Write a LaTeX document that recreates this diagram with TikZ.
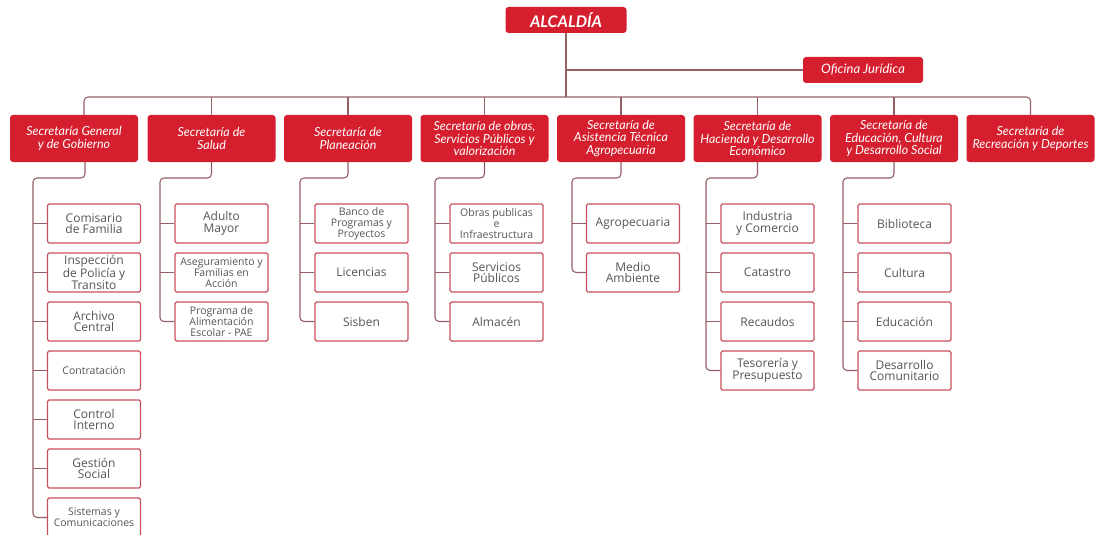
\documentclass[tikz,border=0pt]{standalone}
\usepackage{fontspec}
\setmainfont{Open Sans}
\newfontfamily\titlefont{Lato}
\usepackage{xcolor}
\definecolor{secred}{HTML}{D51F2E}
\definecolor{linkline}{HTML}{946066}
\definecolor{boxline}{HTML}{C9505A}
\definecolor{subtext}{HTML}{555555}

\begin{document}
\begin{tikzpicture}[x=1pt,y=-1pt,
    secbox/.style={fill=secred, rounded corners=3pt, minimum width=128pt, minimum height=47pt,
      inner sep=0pt, align=center, text=white, font=\titlefont\itshape\fontsize{12.5}{12.5}\selectfont},
    subbox/.style={draw=boxline, line width=1.1pt, fill=white, rounded corners=1.5pt,
      minimum width=93pt, minimum height=39pt, inner sep=0pt, align=center, text=subtext,
      font=\fontsize{12}{11.5}\selectfont},
    small/.style={font=\fontsize{10.5}{11}\selectfont},
    link/.style={draw=linkline, line width=1.1pt, rounded corners=4pt}]
  \useasboundingbox (0,0) rectangle (1096,535);
  % top level
  \node[secbox, minimum width=121pt, minimum height=26pt, font=\titlefont\bfseries\itshape\fontsize{16}{16}\selectfont]
    (alc) at (566,20) {ALCALDÍA};
  \node[secbox, minimum width=120pt, minimum height=26pt, font=\titlefont\itshape\fontsize{13}{13}\selectfont]
    (ofi) at (863,70) {Oficina Jurídica};
  \node[secbox] (s1) at (74,138.5) {Secretaría General\\y de Gobierno};
  \node[secbox] (s2) at (211.5,138.5) {Secretaría de\\Salud};
  \node[secbox] (s3) at (348,138.5) {Secretaría de\\Planeación};
  \node[secbox] (s4) at (484.5,138.5) {Secretaría de obras,\\Servicios Públicos y\\valorización};
  \node[secbox] (s5) at (621,138.5) {Secretaría de\\Asistencia Técnica\\Agropecuaria};
  \node[secbox] (s6) at (757.5,138.5) {Secretaría de\\Hacienda y Desarrollo\\Económico};
  \node[secbox] (s7) at (894,138.5) {Secretaría de\\Educación, Cultura\\y Desarrollo Social};
  \node[secbox] (s8) at (1030.5,138.5) {Secretaría de\\Recreación y Deportes};
  % bus
  \coordinate (bus) at (566,97);
  \draw[link] (alc) -- (bus);
  \draw[link] (alc.south |- ofi) -- (ofi.west);
  \draw[link] ([xshift=10pt]s1.north) |- (bus) -| (s8.north);
  \draw[link] (s2.north) -- (s2.north |- bus);
  \draw[link] (s3.north) -- (s3.north |- bus);
  \draw[link] (s4.north) -- (s4.north |- bus);
  \draw[link] (s5.north) -- (s5.north |- bus);
  \draw[link] (s6.north) -- (s6.north |- bus);
  \draw[link] (s7.north) -- (s7.north |- bus);
  % column 1
  \node[subbox] (c11) at (94,223.5) {Comisario\\de Familia};
  \node[subbox] (c12) at (94,272.5) {Inspección\\de Policía y\\Transito};
  \node[subbox] (c13) at (94,321.5) {Archivo\\Central};
  \node[subbox, small] (c14) at (94,370.5) {Contratación};
  \node[subbox] (c15) at (94,419.5) {Control\\Interno};
  \node[subbox] (c16) at (94,468.5) {Gestión\\Social};
  \node[subbox, small] (c17) at (94,517.5) {Sistemas y\\Comunicaciones};
  % column 2
  \node[subbox] (c21) at (221.5,223.5) {Adulto\\Mayor};
  \node[subbox, small] (c22) at (221.5,272.5) {Aseguramiento y\\Familias en\\Acción};
  \node[subbox, small] (c23) at (221.5,321.5) {Programa de\\Alimentación\\Escolar - PAE};
  % column 3
  \node[subbox, small] (c31) at (361.5,223.5) {Banco de\\Programas y\\Proyectos};
  \node[subbox] (c32) at (361.5,272.5) {Licencias};
  \node[subbox] (c33) at (361.5,321.5) {Sisben};
  % column 4
  \node[subbox, small] (c41) at (496.5,223.5) {Obras publicas\\e\\Infraestructura};
  \node[subbox] (c42) at (496.5,272.5) {Servicios\\Públicos};
  \node[subbox] (c43) at (496.5,321.5) {Almacén};
  % column 5
  \node[subbox] (c51) at (633,223.5) {Agropecuaria};
  \node[subbox] (c52) at (633,272.5) {Medio\\Ambiente};
  % column 6
  \node[subbox] (c61) at (767.5,223.5) {Industria\\y Comercio};
  \node[subbox] (c62) at (767.5,272.5) {Catastro};
  \node[subbox] (c63) at (767.5,321.5) {Recaudos};
  \node[subbox] (c64) at (767.5,370.5) {Tesorería y\\Presupuesto};
  % column 7
  \node[subbox] (c71) at (904.5,223.5) {Biblioteca};
  \node[subbox] (c72) at (904.5,272.5) {Cultura};
  \node[subbox] (c73) at (904.5,321.5) {Educación};
  \node[subbox] (c74) at (904.5,370.5) {Desarrollo\\Comunitario};
  % column links
  \coordinate (j1) at (33,178);
  \coordinate (j2) at (160,178);
  \coordinate (j3) at (300,178);
  \coordinate (j4) at (435,178);
  \coordinate (j5) at (572,178);
  \coordinate (j6) at (706,178);
  \coordinate (j7) at (843,178);
  \draw[link] ([xshift=11pt]s1.south) |- (j1) |- (c17.west);
  \draw[link] (s2.south) |- (j2) |- (c23.west);
  \draw[link] (s3.south) |- (j3) |- (c33.west);
  \draw[link] (s4.south) |- (j4) |- (c43.west);
  \draw[link] (s5.south) |- (j5) |- (c52.west);
  \draw[link] (s6.south) |- (j6) |- (c64.west);
  \draw[link] (s7.south) |- (j7) |- (c74.west);
  \draw[link] (c11.west) -- (c11.west -| j1);
  \draw[link] (c12.west) -- (c12.west -| j1);
  \draw[link] (c13.west) -- (c13.west -| j1);
  \draw[link] (c14.west) -- (c14.west -| j1);
  \draw[link] (c15.west) -- (c15.west -| j1);
  \draw[link] (c16.west) -- (c16.west -| j1);
  \draw[link] (c21.west) -- (c21.west -| j2);
  \draw[link] (c22.west) -- (c22.west -| j2);
  \draw[link] (c31.west) -- (c31.west -| j3);
  \draw[link] (c32.west) -- (c32.west -| j3);
  \draw[link] (c41.west) -- (c41.west -| j4);
  \draw[link] (c42.west) -- (c42.west -| j4);
  \draw[link] (c51.west) -- (c51.west -| j5);
  \draw[link] (c61.west) -- (c61.west -| j6);
  \draw[link] (c62.west) -- (c62.west -| j6);
  \draw[link] (c63.west) -- (c63.west -| j6);
  \draw[link] (c71.west) -- (c71.west -| j7);
  \draw[link] (c72.west) -- (c72.west -| j7);
  \draw[link] (c73.west) -- (c73.west -| j7);
\end{tikzpicture}
\end{document}
